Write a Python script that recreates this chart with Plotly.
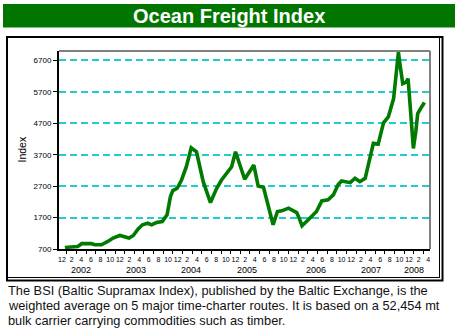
import plotly.graph_objects as go

# ---- data (months counted from Dec 2001 = 0) ----
months = [0.6, 2.0, 3.25, 4.1, 6.1, 6.8, 8.2, 9.5, 10.6, 12.0, 12.7, 13.9, 14.8, 15.8,
          16.7, 17.8, 18.6, 19.6, 20.8, 21.4, 21.8, 22.5, 23.0, 23.9, 24.8, 25.8,
          26.8, 27.9, 29.3, 30.8, 32.1, 33.1, 34.5, 35.2, 36.0, 36.9, 37.9, 39.8,
          40.7, 41.8, 42.8, 43.8, 44.7, 45.6, 47.0, 48.7, 49.2, 49.8, 51.1, 52.8,
          53.9, 55.2, 56.3, 57.3, 58.0, 59.8, 60.8, 61.8, 62.9, 63.8, 64.6, 65.6,
          66.7, 67.7, 68.8, 69.3, 69.8, 70.1, 70.7, 71.4, 71.8, 72.2, 72.5, 72.9,
          73.4, 73.8, 74.4, 75.2]
bsi = [750, 760, 780, 870, 870, 836, 836, 940, 1050, 1130, 1100, 1050, 1130, 1335,
       1470, 1520, 1470, 1540, 1575, 1700, 1787, 2367, 2557, 2633, 2896, 3318,
       3920, 3793, 2843, 2177, 2633, 2896, 3182, 3318, 3793, 3340, 2920, 3372,
       2706, 2665, 2104, 1470, 1892, 1914, 2000, 1860, 1683, 1440, 1630, 1892,
       2231, 2263, 2421, 2750, 2865, 2811, 2950, 2843, 2950, 3530, 4060, 4037,
       4713, 4903, 5486, 6225, 6963, 6595, 5962, 6012, 6120, 5327, 4640, 3900,
       4430, 5010, 5170, 5360]

month_tick_vals = list(range(0, 77, 2))
month_tick_text = ["12", "2", "4", "6", "8", "10"] * 6 + ["12", "2", "4"]
month_tick_text = month_tick_text[:len(month_tick_vals)]
minor_tick_vals = list(range(1, 77, 2))
y_ticks = [700, 1700, 2700, 3700, 4700, 5700, 6700]
year_labels = ["2002", "2003", "2004", "2005", "2006", "2007", "2008"]
year_pos = [3.94, 15.35, 26.76, 38.38, 52.7, 64.1, 73.03]

title_text = "Ocean Freight Index"
caption_lines = [
    "The BSI (Baltic Supramax Index), published by the Baltic Exchange, is the",
    "weighted average on 5 major time-charter routes. It is based on a 52,454 mt",
    "bulk carrier carrying commodities such as timber.",
]

# ---- layout geometry ----
W, H = 461, 330
L, R, T, B = 59, 31, 51, 81
PW, PH = W - L - R, H - T - B


def fx(px):
    return (px - L) / PW


def fy(py):
    return (H - B - py) / PH


GREEN = "#007600"

fig = go.Figure()
fig.add_trace(go.Scatter(x=months, y=bsi, mode="lines",
                         line=dict(color="#007a00", width=3.6),
                         hoverinfo="skip", showlegend=False))

shapes = [
    # title bar
    dict(type="rect", xref="paper", yref="paper", x0=fx(3), x1=fx(455), y0=fy(4), y1=fy(27.5),
         fillcolor=GREEN, line=dict(width=0), layer="below"),
    # outer frame
    dict(type="rect", xref="paper", yref="paper", x0=fx(7), x1=fx(442.5), y0=fy(37), y1=fy(280.5),
         fillcolor="rgba(0,0,0,0)", line=dict(color="black", width=2)),
    dict(type="line", xref="paper", yref="paper", x0=fx(439.5), x1=fx(439.5), y0=fy(38), y1=fy(278),
         line=dict(color="black", width=1)),
    dict(type="line", xref="paper", yref="paper", x0=fx(8), x1=fx(440), y0=fy(277.5), y1=fy(277.5),
         line=dict(color="black", width=1)),
    # gray top / right border of plot
    dict(type="line", xref="paper", yref="paper", x0=0, x1=1, y0=1, y1=1,
         line=dict(color="#808080", width=2)),
    dict(type="line", xref="paper", yref="paper", x0=1, x1=1, y0=0, y1=1,
         line=dict(color="#808080", width=2)),
]

annotations = [
    dict(text="<b>" + title_text + "</b>", xref="paper", yref="paper", x=fx(229), y=fy(16),
         xanchor="center", yanchor="middle", showarrow=False,
         font=dict(family="Liberation Sans, Arial", size=20, color="white")),
    dict(text="Index", xref="paper", yref="paper", x=fx(21.5), y=fy(150), textangle=-90,
         xanchor="center", yanchor="middle", showarrow=False,
         font=dict(family="Liberation Sans, Arial", size=10.5, color="black")),
]
for i, line in enumerate(caption_lines):
    annotations.append(dict(text=line, xref="paper", yref="paper", x=fx(6), y=fy(290 + 15 * i),
                            align="left", xanchor="left", yanchor="middle", showarrow=False,
                            font=dict(family="Liberation Sans, Arial", size=12.8, color="#111111")))
for lab, pos in zip(year_labels, year_pos):
    annotations.append(dict(text=lab, xref="x", yref="paper", x=pos, y=fy(269.5),
                            xanchor="center", yanchor="middle", showarrow=False,
                            font=dict(family="Liberation Sans, Arial", size=9, color="black")))

fig.update_layout(
    width=W, height=H,
    margin=dict(l=L, r=R, t=T, b=B, pad=0),
    paper_bgcolor="white", plot_bgcolor="white",
    shapes=shapes, annotations=annotations,
    xaxis=dict(range=[-0.62, 76.35], tickmode="array", tickvals=month_tick_vals,
               ticktext=month_tick_text, ticks="outside", ticklen=3,
               tickcolor="rgba(0,0,0,0)", showgrid=False, zeroline=False,
               showline=True, linecolor="black", linewidth=2,
               tickfont=dict(family="Liberation Sans Narrow, Arial Narrow, Liberation Sans", size=7, color="black"),
               tickangle=0,
               minor=dict(tickmode="array", tickvals=minor_tick_vals, ticks="outside",
                          ticklen=3, tickcolor="black", tickwidth=1, showgrid=False),
               fixedrange=True),
    yaxis=dict(range=[700, 7000], tickmode="array", tickvals=y_ticks,
               ticks="outside", ticklen=4, tickcolor="black", tickwidth=1,
               showgrid=True, gridcolor="#22cccc", gridwidth=1.5, griddash="7px,4px",
               zeroline=False, showline=True, linecolor="black", linewidth=2,
               tickfont=dict(family="Liberation Sans, Arial", size=8, color="black"),
               fixedrange=True),
)

fig.write_html("out.html")
